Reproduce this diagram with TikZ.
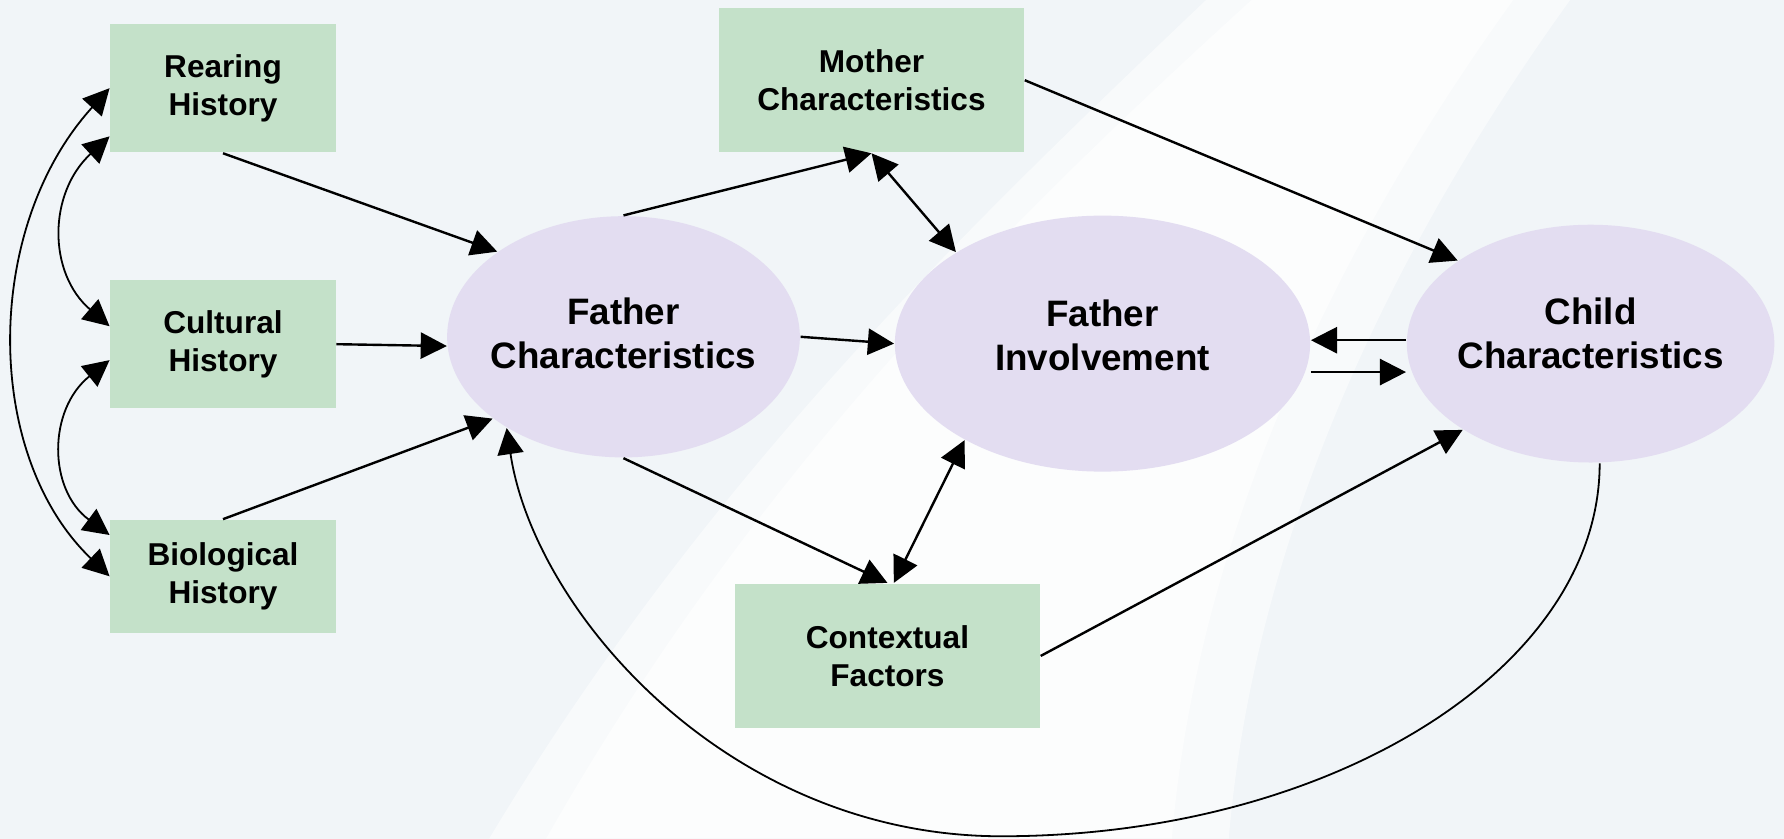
\documentclass[tikz,border=0pt]{standalone}
\usepackage{fontspec}
\setmainfont{Liberation Sans}
\usetikzlibrary{shapes.geometric,arrows.meta}
\definecolor{boxgreen}{HTML}{C4E1C9}
\definecolor{blobviolet}{HTML}{E3DDF1}
\definecolor{backblue}{HTML}{F1F5F8}

\begin{document}
\begin{tikzpicture}[x=0.1mm, y=-0.1mm,
    >={Triangle[length=2.3mm,width=2.3mm]},
    box/.style={fill=boxgreen, inner sep=0pt, align=center,
      font=\bfseries\fontsize{7.9}{9.4}\selectfont},
    blob/.style={ellipse, fill=blobviolet, inner sep=0pt},
    blobtext/.style={align=center, font=\bfseries\fontsize{9.2}{11}\selectfont},
    link/.style={->, line width=0.6pt},
    curvy/.style={<->, line width=0.45pt}]

  % Hintergrund
  \useasboundingbox (0,0) rectangle (1568,737);
  \fill[backblue] (0,0) rectangle (1568,737);
  \fill[white, opacity=0.5] (430,737) .. controls (620,420) and (850,200) .. (1060,0)
    -- (1380,0) .. controls (1200,250) and (1100,500) .. (1080,737) -- cycle;
  \fill[white, opacity=0.6] (480,737) .. controls (660,420) and (880,200) .. (1100,0)
    -- (1330,0) .. controls (1150,250) and (1050,500) .. (1030,737) -- cycle;

  % Einflussfaktoren
  \node[box, minimum width=1.98cm, minimum height=1.13cm] (rearing) at (196,77.5) {Rearing\\History};
  \node[box, minimum width=1.98cm, minimum height=1.13cm] (cultural) at (196,302.5) {Cultural\\History};
  \node[box, minimum width=1.98cm, minimum height=0.99cm] (biological) at (196,506.5) {Biological\\History};
  \node[box, minimum width=2.68cm, minimum height=1.27cm] (mother) at (766,70.5) {Mother\\Characteristics};
  \node[box, minimum width=2.68cm, minimum height=1.27cm] (context) at (780,576.5) {Contextual\\Factors};

  \node[blob, minimum width=3.10cm, minimum height=2.12cm] (fchar) at (548,296) {};
  \node[blob, minimum width=3.65cm, minimum height=2.25cm] (finv) at (969,302) {};
  \node[blob, minimum width=3.23cm, minimum height=2.09cm] (child) at (1398,302) {};
  \node[blobtext] (fcharlabel) at (548,293) {Father\\Characteristics};
  \node[blobtext] (finvlabel) at (969,295) {Father\\Involvement};
  \node[blobtext] (childlabel) at (1398,293) {Child\\Characteristics};

  % Pfeile
  \draw[link] (rearing.south) -- (fchar.146);
  \draw[link] (cultural.east) -- (fchar.183);
  \draw[link] (biological.north) -- (fchar.212);
  \draw[link] (fchar.north) -- (mother.south);
  \draw[link] (fchar.east) -- (finv.west);
  \draw[link] (fchar.south) -- (context.north);
  \draw[link, <->] (mother.south) -- (finv.148);
  \draw[link, <->] (context.85) -- (finv.215);
  \draw[link] (mother.east) -- (child.148);
  \draw[link] (context.east) -- (child.214);
  \draw[link] ([yshift=0.3mm]child.west) -- ([yshift=0.3mm]finv.east);
  \draw[link] ([yshift=-2.5mm]finv.east) -- ([yshift=-2.5mm]child.west);

  \draw[curvy, ->] ([xshift=0.8mm]child.south) .. controls +(0,180) and +(290,0) .. (880,735)
    .. controls +(-240,0) and +(24,161) .. (fchar.218);
  \draw[curvy] (rearing.west) .. controls (-15,200) and (-15,400) .. (biological.west);
  \draw[curvy] (rearing.203) .. controls (42,170) and (42,240) .. (cultural.171);
  \draw[curvy] (cultural.188) .. controls (42,360) and (42,430) .. (biological.160);

\end{tikzpicture}
\end{document}
